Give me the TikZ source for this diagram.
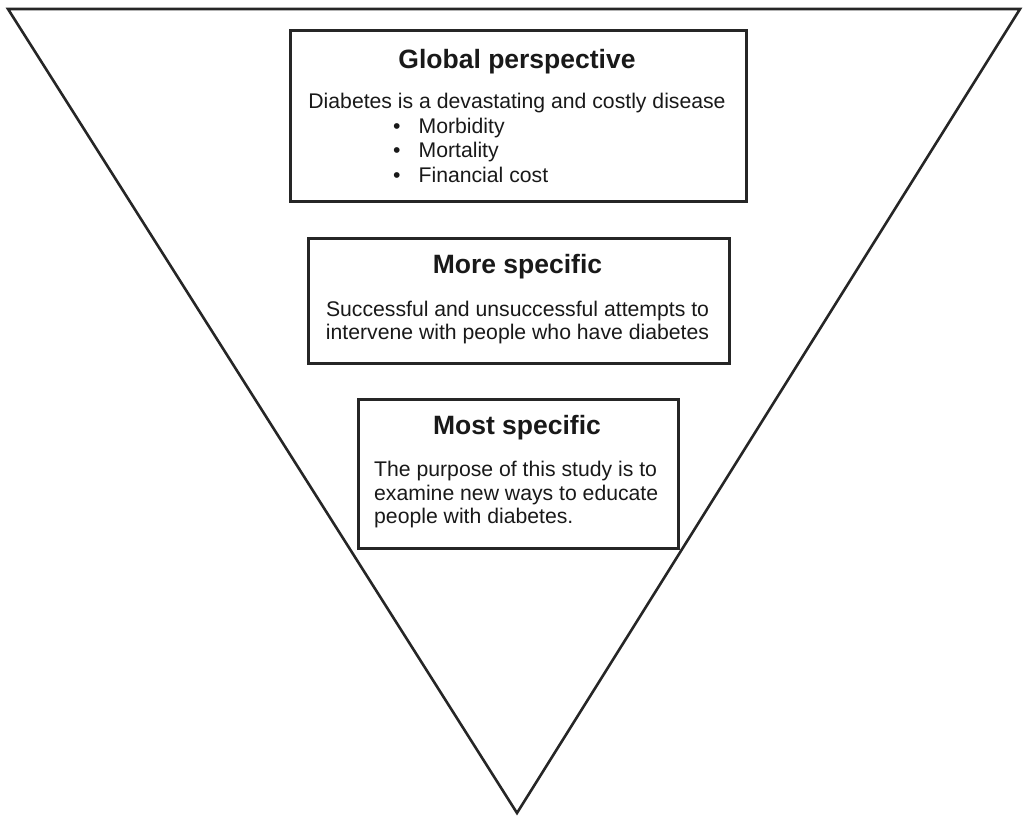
\documentclass[tikz,border=0pt]{standalone}
\usepackage{fontspec}
\setmainfont{Liberation Sans}
\begin{document}
\begin{tikzpicture}[x=1pt,y=-1pt,
  frame/.style={draw=black!85, line width=2.8pt, fill=white, inner sep=0pt, anchor=north west},
  title/.style={font=\fontsize{26.5}{30}\selectfont\bfseries, text=black!90, inner sep=0pt},
  body/.style={font=\fontsize{21.2}{23.5}\selectfont, text=black!90, inner sep=0pt}]
\useasboundingbox (0,0) rectangle (1024,817);
\coordinate (tl) at (8,9);
\coordinate (tr) at (1020,9);
\coordinate (bt) at (517,813);
\draw[line width=2.6pt, black!85, line join=miter] (tl) -- (tr) -- (bt) -- cycle;
% Box 1
\node[frame, minimum width=456pt, minimum height=171pt] (b1) at (289,29) {};
\node[title] (t1) at (517,62) {Global perspective};
\node[body] (d1) at (517,103) {Diabetes is a devastating and costly disease};
\node[body, anchor=west] (m1) at (393,128) {\textbullet\hspace{18pt}Morbidity};
\node[body, anchor=west] (m2) at (393,152) {\textbullet\hspace{18pt}Mortality};
\node[body, anchor=west] (m3) at (393,175) {\textbullet\hspace{18pt}Financial cost};
% Box 2
\node[frame, minimum width=421pt, minimum height=125pt] (b2) at (307,237) {};
\node[title] (t2) at (517.5,267) {More specific};
\node[body, align=center] (d2) at (517.5,322.5) {Successful and unsuccessful attempts to\\intervene with people who have diabetes};
% Box 3
\node[frame, minimum width=320pt, minimum height=149pt] (b3) at (357,398) {};
\node[title] (t3) at (517,428) {Most specific};
\node[body, align=left, anchor=west] (d3) at (374,495) {The purpose of this study is to\\examine new ways to educate\\people with diabetes.};
\end{tikzpicture}
\end{document}
